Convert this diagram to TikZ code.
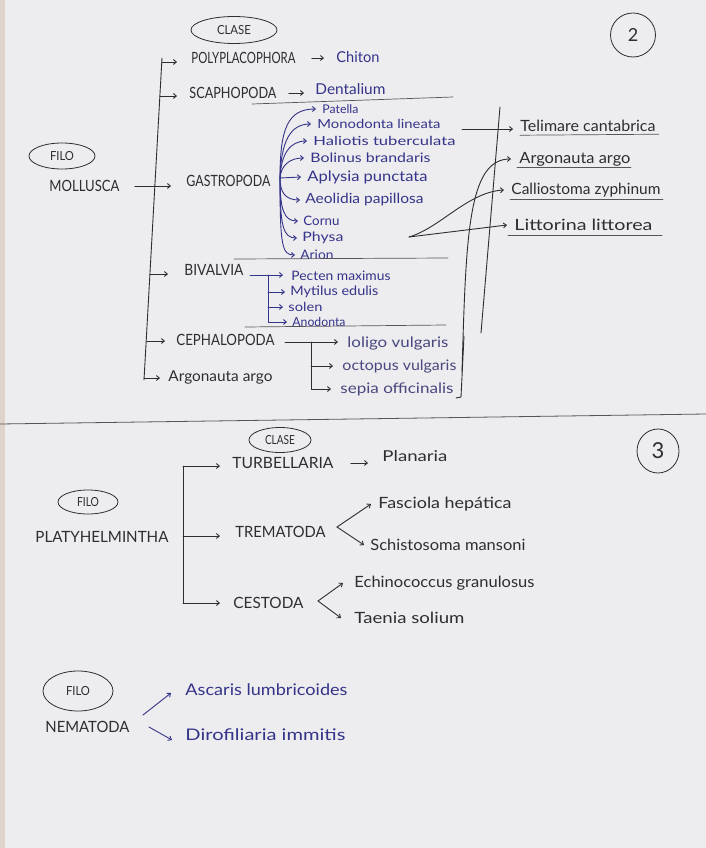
\documentclass[tikz,border=0pt]{standalone}
\usepackage{fontspec}
\usepackage{graphicx}
\setmainfont{Lato}
\usetikzlibrary{arrows.meta,shapes.geometric,calc}
\definecolor{paper}{RGB}{237,236,238}
\definecolor{edgec}{RGB}{222,212,204}
\definecolor{ink}{RGB}{45,45,50}
\definecolor{pen}{RGB}{85,85,90}
\definecolor{blu}{RGB}{52,52,138}
\definecolor{blg}{RGB}{72,72,128}
\newcommand{\tw}[2]{\resizebox{#1pt}{\height}{#2}}
\tikzset{
  lab/.style={inner sep=0pt, anchor=west, text=ink},
  uplab/.style={lab, font=\fontsize{15.5}{15.5}\selectfont},
  sp/.style={lab, text=blu, font=\fontsize{#1}{#1}\selectfont},
  sp/.default=12,
  spk/.style={lab, text=ink, font=\fontsize{#1}{#1}\selectfont},
  spk/.default=12.5,
  oval/.style={ellipse, draw=ink, line width=0.8pt, inner sep=0pt, text=ink, font=\fontsize{12.5}{12.5}\selectfont},
  arr/.style={draw=ink, -{Straight Barb[length=3pt,width=5pt]}},
  barr/.style={draw=blu, -{Straight Barb[length=3pt,width=5pt]}},
  sepline/.style={draw=pen, line width=0.7pt},
}
\begin{document}
\begin{tikzpicture}[x=1pt,y=-1pt,line width=0.9pt,line cap=round,line join=round]
\fill[paper] (0,0) rectangle (706,848);
\fill[edgec] (0,0) rectangle (5,848);
\path[use as bounding box] (0,0) rectangle (706,848);

% ===== MOLLUSCA =====
\node[oval, minimum width=86pt, minimum height=27pt] (clase1) at (234,30) {\tw{34}{CLASE}};
\node[oval, minimum width=45pt, minimum height=44pt, font=\fontsize{18}{18}\selectfont] (circ2) at (633,35) {2};
\node[oval, minimum width=66pt, minimum height=26pt] (filo1) at (62,156) {\tw{24}{FILO}};

\node[uplab] (mollusca) at (49,186) {\tw{70}{MOLLUSCA}};
\node[uplab] (poly) at (191,58) {\tw{104}{POLYPLACOPHORA}};
\node[sp=15] (chiton) at (336,57) {\tw{43}{Chiton}};
\node[uplab] (scapho) at (189,93) {\tw{87}{SCAPHOPODA}};
\node[sp=15] (dental) at (315,89) {\tw{70}{Dentalium}};
\node[uplab] (gastro) at (186,181) {\tw{84}{GASTROPODA}};
\node[uplab] (bival) at (184,270) {\tw{59}{BIVALVIA}};
\node[uplab] (cephal) at (176,340) {\tw{98}{CEPHALOPODA}};
\node[spk=15] (argoL) at (168,377) {\tw{104}{Argonauta argo}};

% gastropoda species
\node[sp=12] (patella) at (322,109) {\tw{36}{Patella}};
\node[sp=12.5] (monod) at (317,124) {\tw{123}{Monodonta lineata}};
\node[sp=12.5] (haliot) at (313,141) {\tw{142}{Haliotis tuberculata}};
\node[sp=13] (bolinus) at (310,158) {\tw{120}{Bolinus brandaris}};
\node[sp=14.5] (aplysia) at (307,177) {\tw{120}{Aplysia punctata}};
\node[sp=14] (aeolid) at (305,200) {\tw{118}{Aeolidia papillosa}};
\node[sp=13] (cornu) at (303,221) {\tw{36}{Cornu}};
\node[sp=13] (physa) at (302,238) {\tw{41}{Physa}};
\node[sp=13] (arion) at (300,255) {\tw{33}{Arion}};

% bivalvia species
\node[sp=13] (pecten) at (291,276) {\tw{99}{Pecten maximus}};
\node[sp=13] (mytil) at (290,292) {\tw{88}{Mytilus edulis}};
\node[sp=12.5] (solen) at (288,307) {\tw{34}{solen}};
\node[sp=12.5] (anodon) at (292,322) {\tw{53}{Anodonta}};

% cephalopoda species
\node[lab, text=blg, font=\fontsize{14.5}{14.5}\selectfont] (loligo) at (347,343) {\tw{101}{loligo vulgaris}};
\node[lab, text=blg, font=\fontsize{14.5}{14.5}\selectfont] (octop) at (342,366) {\tw{114}{octopus vulgaris}};
\node[lab, text=blg, font=\fontsize{14.5}{14.5}\selectfont] (sepia) at (340,389) {\tw{113}{sepia officinalis}};

% right group
\node[spk=15.5] (telim) at (520,126) {\tw{135}{Telimare cantabrica}};
\node[spk=15.5] (argoR) at (519,159) {\tw{111}{Argonauta argo}};
\node[spk=15.5] (callio) at (511,190) {\tw{149}{Calliostoma zyphinum}};
\node[spk=15.5] (littor) at (514,225) {\tw{138}{Littorina littorea}};

% main bracket
\coordinate (mt) at (162,58);
\coordinate (mb) at (144,380);
\draw[ink] (mt) -- (mb);
\coordinate (b1) at (162,62);
\coordinate (b2) at (160,96);
\coordinate (b4) at (150,274);
\coordinate (b5) at (147,341);
\coordinate (b6) at (144,378);
\draw[arr, shorten >=14pt] (b1) -- (b1 -| poly.west);
\draw[arr, shorten >=12pt] (b2) -- (b2 -| scapho.west);
\draw[arr, shorten >=16pt] (b4) -- (b4 -| bival.west);
\draw[arr, shorten >=11pt] (b5) -- (b5 -| cephal.west);
\draw[arr, shorten >=8pt] (b6) -- (b6 -| argoL.west);
\draw[arr, shorten <=15pt, shorten >=15pt] (mollusca.east) -- (mollusca.east -| gastro.west);
\draw[arr, shorten <=16pt, shorten >=12pt] (poly.east) -- (poly.east -| chiton.west);
\draw[arr, shorten <=12pt, shorten >=11pt] (scapho.east) -- (scapho.east -| dental.west);

% separators
\draw[sepline] (252,104) -- (453,97);
\draw[sepline] (234,259) -- (448,258);
\draw[sepline] (245,327) -- (446,325);

% gastropoda bracket
\coordinate (gm) at (280,178);
\draw[barr] (gm) .. controls (280,128) and (288,109) .. ([xshift=-6pt]patella.west);
\draw[barr] (gm) .. controls (281,142) and (290,124) .. ([xshift=-6pt]monod.west);
\draw[barr] (gm) .. controls (281,154) and (290,141) .. ([xshift=-6pt]haliot.west);
\draw[barr] (gm) .. controls (281,166) and (289,158) .. ([xshift=-6pt]bolinus.west);
\draw[barr] (gm) -- ([xshift=-6pt]aplysia.west);
\draw[barr] (gm) .. controls (280,192) and (285,200) .. ([xshift=-5pt]aeolid.west);
\draw[barr] (gm) .. controls (280,210) and (284,221) .. ([xshift=-5pt]cornu.west);
\draw[barr] (gm) .. controls (280,226) and (283,238) .. ([xshift=-5pt]physa.west);
\draw[barr] (gm) .. controls (280,246) and (282,255) .. ([xshift=-5pt]arion.west);

% bivalvia bracket
\coordinate (bv0) at (250,275);
\coordinate (bv1) at (268,275);
\coordinate (bv2) at (268,292);
\coordinate (bv3) at (268,307);
\draw[barr, shorten >=8pt] (bv0) -- (bv0 -| pecten.west);
\draw[barr, shorten >=5pt] (bv1) |- (anodon.west);
\draw[barr, shorten >=5pt] (bv2) -- (bv2 -| mytil.west);
\draw[barr, shorten >=5pt] (bv3) -- (bv3 -| solen.west);

% cephalopoda bracket
\coordinate (c0) at (285,342);
\coordinate (c1) at (311,342);
\coordinate (c2) at (311,366);
\draw[arr, shorten >=9pt] (c0) -- (c0 -| loligo.west);
\draw[arr, shorten >=9pt] (c1) |- (sepia.west);
\draw[arr, shorten >=9pt] (c2) -- (c2 -| octop.west);
\draw[ink] (464,336) -- (461,397) -- (456,398);

% right group lines
\draw[ink] (500,107) -- (481,333);
\coordinate (tf) at (462,129);
\draw[arr, shorten >=7pt] (tf) -- (tf -| telim.west);
\draw[arr] (462,372) .. controls (466,235) and (468,159) .. ([xshift=-8pt]argoR.west);
\coordinate (fc) at (409,237);
\draw[arr] (fc) .. controls (440,228) and (468,192) .. ([xshift=-7pt]callio.west);
\draw[arr] (fc) -- ([xshift=-7pt]littor.west);
\draw[sepline] ([yshift=-3pt]telim.south west) -- ([yshift=-2pt,xshift=3pt]telim.south east);
\draw[sepline] ([yshift=-1pt,xshift=-2pt]argoR.south west) -- ([yshift=-1pt]argoR.south east);
\draw[sepline] ([yshift=-2pt,xshift=-1pt]callio.south west) -- ([yshift=-2pt,xshift=2pt]callio.south east);
\draw[sepline] ([yshift=-4pt,xshift=-6pt]littor.south west) -- ([yshift=-4pt,xshift=9pt]littor.south east);

% divider
\draw[pen, line width=0.8pt] (0,424) -- (706,414);

% ===== PLATYHELMINTHA =====
\node[oval, minimum width=62pt, minimum height=25pt] (clase2) at (280,440) {\tw{30}{CLASE}};
\node[oval, minimum width=42pt, minimum height=44pt, font=\fontsize{22}{22}\selectfont] (circ3) at (658,451) {3};
\node[oval, minimum width=60pt, minimum height=24pt] (filo2) at (88,502) {\tw{22}{FILO}};

\node[uplab] (platy) at (35,537) {\tw{133}{PLATYHELMINTHA}};
\node[uplab] (turb) at (232,463) {\tw{101}{TURBELLARIA}};
\node[spk=15] (planaria) at (382,456) {\tw{65}{Planaria}};
\node[uplab] (trema) at (235,532) {\tw{90}{TREMATODA}};
\node[spk=15.5] (fasc) at (378,504) {\tw{133}{Fasciola hepática}};
\node[spk=15.5] (schist) at (370,545) {\tw{155}{Schistosoma mansoni}};
\node[uplab] (cest) at (233,603) {\tw{70}{CESTODA}};
\node[spk=15.5] (echin) at (354,583) {\tw{180}{Echinococcus granulosus}};
\node[spk=15.5] (taenia) at (354,618) {\tw{110}{Taenia solium}};

\coordinate (p1) at (183,466);
\coordinate (p2) at (183,536);
\coordinate (p3) at (183,603);
\draw[ink] (p1) -- (p3);
\draw[arr, shorten >=12pt] (p1) -- (p1 -| turb.west);
\draw[arr, shorten >=15pt] (p2) -- (p2 -| trema.west);
\draw[arr, shorten >=13pt] (p3) -- (p3 -| cest.west);
\draw[arr, shorten <=17pt, shorten >=14pt] (turb.east) -- (turb.east -| planaria.west);
\coordinate (tv) at (337,527);
\draw[arr] (tv) -- ([xshift=-7pt]fasc.west);
\draw[arr] (tv) -- ([xshift=-6pt]schist.west);
\coordinate (cv) at (318,601);
\draw[arr] (cv) -- ([xshift=-11pt]echin.west);
\draw[arr] (cv) -- ([xshift=-13pt]taenia.west);

% ===== NEMATODA =====
\node[oval, minimum width=70pt, minimum height=40pt] (filo3) at (78,691) {\tw{24}{FILO}};
\node[uplab] (nemat) at (45,727) {\tw{84}{NEMATODA}};
\node[sp=16] (ascaris) at (185,690) {\tw{162}{Ascaris lumbricoides}};
\node[sp=16] (dirof) at (185,735) {\tw{160}{Dirofiliaria immitis}};
\coordinate (n1) at (143,715);
\coordinate (n2) at (149,727);
\draw[barr] (n1) -- ([xshift=-14pt,yshift=-3pt]ascaris.west);
\draw[barr] (n2) -- ([xshift=-13pt,yshift=-5pt]dirof.west);
\end{tikzpicture}
\end{document}
